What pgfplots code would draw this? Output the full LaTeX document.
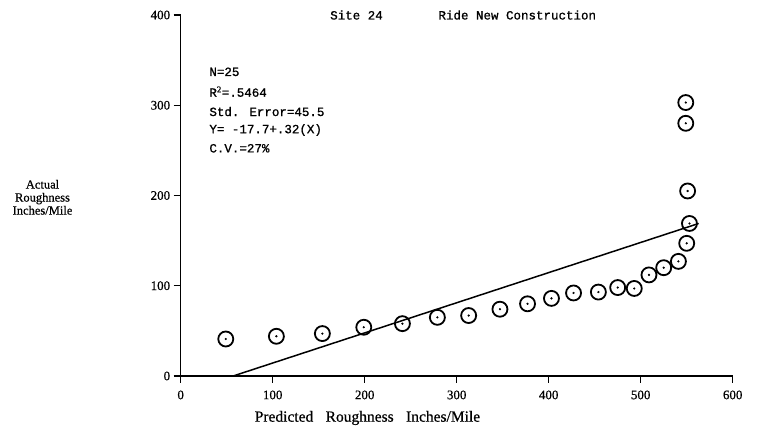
\documentclass[border=0pt]{standalone}
\usepackage{pgfplots}
\pgfplotsset{compat=1.18}
\usepackage{fontspec}
\setmainfont[FakeBold=0.6]{Liberation Serif}
\newfontfamily\tw[FakeBold=1.0]{Liberation Mono}

% Measured roughness against the model's prediction
\pgfplotstableread{
x    y
49   41
104  44
154  47
199  54
241  58
279  65
313  67
347  74
377  80
403  86
427  92
454  93
475  98
493  97
509  112
525  120
541  127
550  147
553  169
551  205
549  280
549  303
}\sitedata

% Least squares line, Y = -17.7 + .32(X)
\pgfplotstableread{
x    y
57   0
563  169
}\fitline

\begin{document}
\begin{tikzpicture}
\useasboundingbox (-180.7pt,-54pt) rectangle (579.3pt,376pt);
\begin{axis}[
  at={(0,0)}, anchor=south west,
  width=552pt, height=361pt, scale only axis,
  xmin=0, xmax=600, ymin=0, ymax=400,
  axis x line=bottom, axis y line=left,
  axis line style={line width=1.4pt, -},
  xtick={0,100,...,600}, ytick={0,100,...,400},
  tick align=outside, major tick length=7pt,
  tick style={line width=1.1pt, black},
  ticklabel style={font=\fontsize{13}{15}\selectfont},
  xticklabel style={yshift=-4pt},
  /pgf/number format/assume math mode=true,
  clip=false,
]
\addplot[black, line width=1.5pt] table {\fitline};
\addplot[only marks, mark=o, mark size=7.5pt,
  mark options={line width=1.8pt, black}] table {\sitedata};
\addplot[only marks, mark=*, mark size=0.9pt,
  mark options={black}] table {\sitedata};

\node[anchor=west, font=\tw\fontsize{12.5}{14}\selectfont] at (axis cs:158.7,400) {Site 24};
\node[anchor=west, font=\tw\fontsize{12.5}{14}\selectfont] at (axis cs:276.4,400) {Ride New Construction};

\begin{scope}[every node/.style={anchor=west, inner sep=0pt, font=\tw\fontsize{12.5}{14}\selectfont}]
\node at (axis cs:31,337) {N=25};
\node at (axis cs:31,315) {R$^{\mathrm{2}}$=.5464};
\node at (axis cs:31,293) {Std. Error=45.5};
\node at (axis cs:31,272.6) {Y= -17.7+.32(X)};
\node at (axis cs:31,252.3) {C.V.=27\%};
\end{scope}

\node[align=center, font=\fontsize{12.5}{13}\selectfont] at (axis cs:-150.2,198)
  {Actual\\Roughness\\Inches/Mile};
\node[font=\fontsize{15.5}{17}\selectfont, inner sep=0pt] at (axis cs:203,-46.5)
  {Predicted\hspace{0.8em}Roughness\hspace{0.8em}Inches/Mile};
\end{axis}
\end{tikzpicture}
\end{document}
